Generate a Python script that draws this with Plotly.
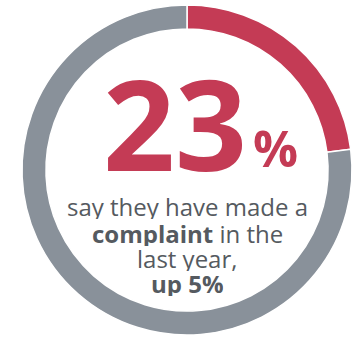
import plotly.graph_objects as go

labels = ["Made a complaint", "Did not"]
values = [23, 77]
colors = ["#C43B55", "#89919A"]
headline_value = "23"
headline_unit = "%"
caption_lines = ["say they have made a", "<b>complaint</b> in the", "last year,", "<b>up 5%</b>"]

W, H = 357, 340
fig = go.Figure(go.Pie(
    labels=labels, values=values, hole=0.855, sort=False, direction="clockwise",
    rotation=0, textinfo="none", hoverinfo="label+percent",
    marker=dict(colors=colors, line=dict(color="white", width=1.5)),
    domain=dict(x=[22 / W, 352 / W], y=[(H - 335) / H, (H - 5) / H]),
    showlegend=False,
))

font = "Open Sans, Noto Sans, sans-serif"
ann = []
ann.append(dict(x=175 / W, y=1 - 122 / H, xref="paper", yref="paper", text="<b>" + headline_value + "</b>",
                showarrow=False, height=110, font=dict(family=font, size=126, color=colors[0]),
                xanchor="center", yanchor="middle"))
ann.append(dict(x=275 / W, y=1 - 148 / H, xref="paper", yref="paper", text="<b>" + headline_unit + "</b>",
                showarrow=False, height=44, font=dict(family=font, size=50, color=colors[0]),
                xanchor="center", yanchor="middle"))
ys = [207, 233, 258, 283]
for t, yy in zip(caption_lines, ys):
    ann.append(dict(x=187 / W, y=1 - yy / H, xref="paper", yref="paper", text=t, showarrow=False,
                    height=25, font=dict(family=font, size=24, color="#555a60"),
                    xanchor="center", yanchor="middle"))

fig.update_layout(width=W, height=H, margin=dict(l=0, r=0, t=0, b=0),
                  paper_bgcolor="white", plot_bgcolor="white", annotations=ann)
fig.write_html("out.html")
